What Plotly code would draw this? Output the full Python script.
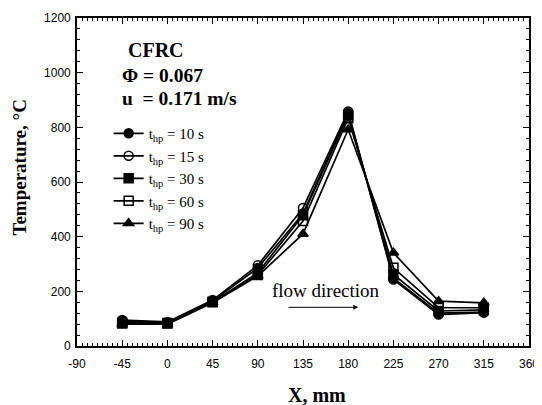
import plotly.graph_objects as go

x_mm = [-45, 0, 45, 90, 135, 180, 225, 270, 315]
t10 = [92, 85, 165, 285, 485, 852, 248, 120, 124]
t15 = [95, 88, 168, 295, 505, 858, 243, 115, 122]
t30 = [82, 82, 160, 268, 478, 845, 262, 128, 132]
t60 = [85, 84, 162, 260, 457, 833, 286, 140, 140]
t90 = [80, 80, 158, 256, 410, 792, 341, 164, 158]

x_ticks = [-90, -45, 0, 45, 90, 135, 180, 225, 270, 315, 360]
x_tick_text = ["-90", "-45", "0", "45", "90", "135", "180", "225", "270", "315", "360"]
y_ticks = [0, 200, 400, 600, 800, 1000, 1200]

series = [
    ("t<sub>hp</sub> = 10 s", t10, "circle"),
    ("t<sub>hp</sub> = 15 s", t15, "circle-open"),
    ("t<sub>hp</sub> = 30 s", t30, "square"),
    ("t<sub>hp</sub> = 60 s", t60, "square-open"),
    ("t<sub>hp</sub> = 90 s", t90, "triangle-up"),
]

fig = go.Figure()
for name, vals, sym in series:
    fig.add_trace(go.Scatter(
        x=x_mm, y=vals, name=name, mode="lines+markers",
        line=dict(color="black", width=1.7),
        marker=dict(symbol=sym, size=9, color="black",
                    line=dict(color="black", width=1.5)),
    ))

serif = "Liberation Serif, Times New Roman, serif"
sans = "Liberation Sans, Arial, sans-serif"

# page body has an 8px margin; margins compensate so the plot box lands where the reference has it
fig.update_layout(
    width=542, height=397,
    margin=dict(l=69, r=21, t=10, b=59, autoexpand=False),
    paper_bgcolor="white", plot_bgcolor="white",
    showlegend=True,
    legend=dict(x=0.07, y=0.698, xanchor="left", yanchor="top",
                bgcolor="rgba(0,0,0,0)", font=dict(family=serif, size=15, color="black"),
                tracegroupgap=0, itemwidth=30),
    xaxis=dict(range=[-90, 360], tickvals=x_ticks, ticktext=x_tick_text,
               ticks="inside", ticklen=6, tickwidth=1.3, tickcolor="black",
               showline=True, linecolor="black", linewidth=1.6, mirror="allticks",
               showgrid=False, zeroline=False, ticklabelstandoff=6,
               ticklabeloverflow="allow",
               minor=dict(dtick=5, ticks="inside", ticklen=3, tickcolor="black", tickwidth=1),
               tickfont=dict(family=sans, size=12, color="black")),
    yaxis=dict(range=[0, 1200], tickvals=y_ticks,
               ticks="inside", ticklen=6, tickwidth=1.3, tickcolor="black",
               showline=True, linecolor="black", linewidth=1.6, mirror="allticks",
               showgrid=False, zeroline=False, ticklabelstandoff=2,
               ticklabeloverflow="allow",
               minor=dict(dtick=40, ticks="inside", ticklen=3, tickcolor="black", tickwidth=1),
               tickfont=dict(family=sans, size=12, color="black")),
)

# axis titles placed as in the reference (slightly off-centre)
fig.add_annotation(x=(317 - 77) / 452, y=(346 - 395) / 328, xref="paper", yref="paper",
                   xanchor="center", yanchor="middle",
                   text="<b>X, mm</b>", showarrow=False,
                   font=dict(family=serif, size=20, color="black"))
fig.add_annotation(x=(19 - 77) / 452, y=(346 - 167.5) / 328, xref="paper", yref="paper",
                   xanchor="center", yanchor="middle",
                   text="<b>Temperature, °C</b>", showarrow=False, textangle=-90,
                   font=dict(family=serif, size=19, color="black"))

annots = [
    dict(x=-41.3, y=1083, text="<b>CFRC</b>", size=20),
    dict(x=-47.2, y=991, text="<b>Φ = 0.067</b>", size=19.5),
    dict(x=-47.2, y=905, text="<b>u  = 0.171 m/s</b>", size=19.5),
]
for a in annots:
    fig.add_annotation(x=a["x"], y=a["y"], text=a["text"], showarrow=False,
                       xanchor="left", yanchor="middle",
                       font=dict(family=serif, size=a["size"], color="black"))

fig.add_annotation(x=158, y=202, text="flow direction", showarrow=False,
                   xanchor="center", yanchor="middle",
                   font=dict(family=serif, size=19, color="black"))
fig.add_annotation(x=190, y=141.6, ax=119, ay=141.6, xref="x", yref="y", axref="x", ayref="y",
                   text="", showarrow=True, arrowhead=2, arrowsize=1, arrowwidth=1, arrowcolor="black")

fig.write_html("out.html")
